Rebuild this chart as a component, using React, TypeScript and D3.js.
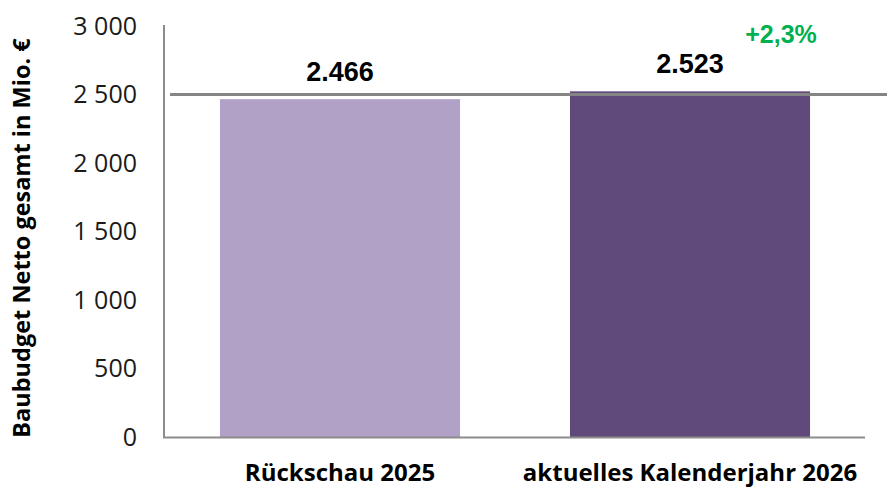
import React from "react";
import * as d3 from "d3";

const categories = ["Rückschau 2025", "aktuelles Kalenderjahr 2026"];
const values = [2466, 2523];
const valueLabels = ["2.466", "2.523"];
const barColors = ["#B2A1C7", "#604A7B"];
const yTicks = [0, 500, 1000, 1500, 2000, 2500, 3000];
const tickLabels = ["0", "500", "1 000", "1 500", "2 000", "2 500", "3 000"];
const referenceValue = 2500;
const changeLabel = "+2,3%";
const yTitle = "Baubudget Netto gesamt in Mio. €";

const W = 887;
const H = 488;

export default function App() {
  const x = d3.scaleBand<string>().domain(categories).range([165, 865]).paddingInner(0.314).paddingOuter(0.157);
  const y = d3.scaleLinear().domain([0, 3000]).range([437, 26]);
  const sans = "'Open Sans', 'DejaVu Sans', sans-serif";
  const arial = "'Liberation Sans', Arial, sans-serif";
  return (
    <svg width={W} height={H} style={{ position: "absolute", left: 0, top: 0, background: "#fff" }}>
      {categories.map((c, i) => (
        <rect key={c} x={x(c)} y={y(values[i])} width={x.bandwidth()} height={y(0) - y(values[i])} fill={barColors[i]} />
      ))}
      {/* axes */}
      <line x1={164} x2={164} y1={y(3000) - 1} y2={y(0) + 1} stroke="#8c8c8c" strokeWidth={2} />
      <line x1={163} x2={865} y1={y(0) + 0.5} y2={y(0) + 0.5} stroke="#8c8c8c" strokeWidth={2} />
      {/* reference line */}
      <line x1={170} x2={W} y1={y(referenceValue)} y2={y(referenceValue)} stroke="#858585" strokeWidth={3} />
      {yTicks.map((t, i) => (
        <text key={t} x={137} y={y(t)} dy="0.35em" textAnchor="end" fontFamily={sans} fontSize={25} fill="#1a1a1a">
          {tickLabels[i]}
        </text>
      ))}
      {categories.map((c, i) => (
        <text key={c} x={(x(c) as number) + x.bandwidth() / 2} y={y(values[i]) - 18} textAnchor="middle" fontFamily={arial} fontWeight="bold" fontSize={27} fill="#000">
          {valueLabels[i]}
        </text>
      ))}
      <text x={781} y={43} textAnchor="middle" fontFamily={arial} fontWeight="bold" fontSize={25} fill="#00B050">
        {changeLabel}
      </text>
      {categories.map((c) => (
        <text key={c} x={(x(c) as number) + x.bandwidth() / 2} y={481} textAnchor="middle" fontFamily={sans} fontWeight="bold" fontSize={24} fill="#000">
          {c}
        </text>
      ))}
      <text transform={`translate(30, 238) rotate(-90)`} textAnchor="middle" fontFamily={sans} fontWeight="bold" fontSize={23.5} fill="#000">
        {yTitle}
      </text>
    </svg>
  );
}
